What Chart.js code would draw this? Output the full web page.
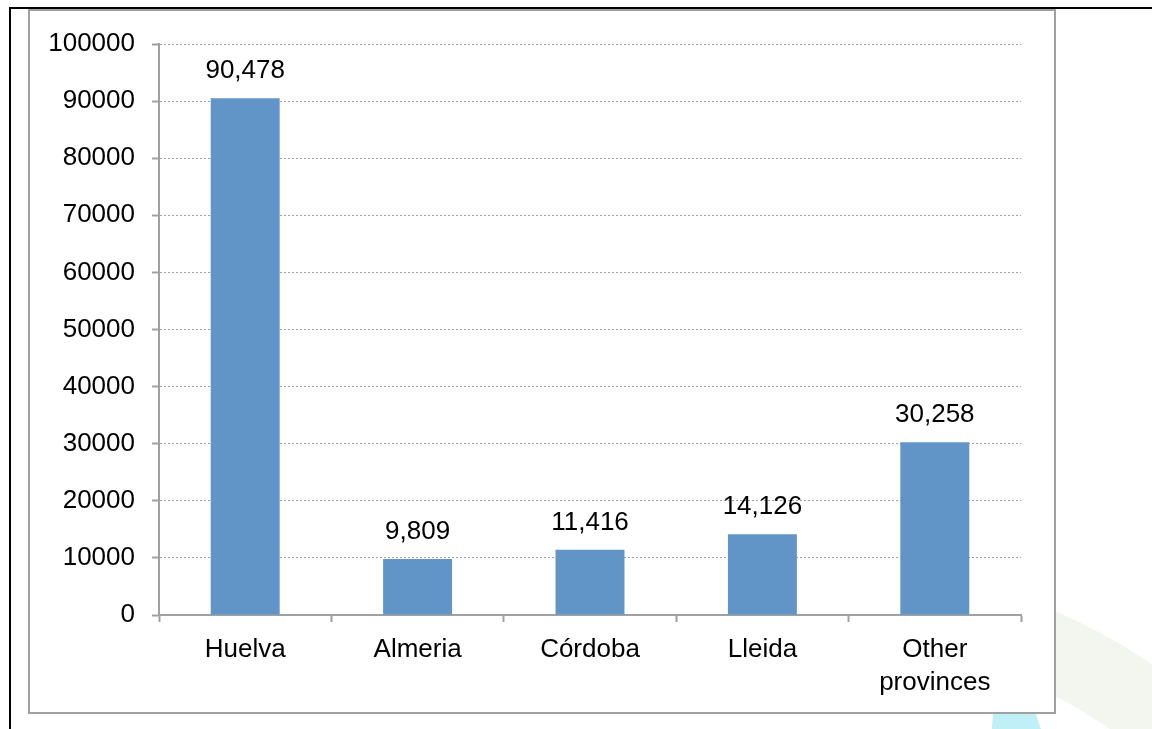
<!DOCTYPE html>
<html>
<head>
<meta charset="utf-8">
<script src="https://cdn.jsdelivr.net/npm/chart.js@4.4.0/dist/chart.umd.min.js"></script>
<style>
  html, body { margin: 0; padding: 0; background: #fff; }
  #wrap { position: relative; width: 1152px; height: 729px; }
</style>
</head>
<body>
<div id="wrap"><canvas id="chart" width="1152" height="729"></canvas></div>
<script>
'use strict';

const categories = ['Huelva', 'Almeria', 'Córdoba', 'Lleida', ['Other', 'provinces']];
const workers = [90478, 9809, 11416, 14126, 30258];
const yTicks = [0, 10000, 20000, 30000, 40000, 50000, 60000, 70000, 80000, 90000, 100000];

const FONT = "'Liberation Sans', Arial, sans-serif";
const GRAY = '#a0a0a0';

// background: watermark, outer frame lines, white chart box
const framePlugin = {
  id: 'frame',
  beforeDraw(chart) {
    const ctx = chart.ctx;
    ctx.save();
    ctx.fillStyle = '#fff';
    ctx.fillRect(0, 0, chart.width, chart.height);

    // faint logo watermark, bottom right
    ctx.beginPath();
    ctx.arc(850, 1100, 530, Math.PI * 1.5, Math.PI * 2);
    ctx.arc(850, 1100, 453, Math.PI * 2, Math.PI * 1.5, true);
    ctx.closePath();
    ctx.fillStyle = '#f3f6ee';
    ctx.fill();
    ctx.beginPath();
    ctx.moveTo(993, 712);
    ctx.lineTo(1035, 712);
    ctx.lineTo(1041, 729);
    ctx.lineTo(992, 729);
    ctx.closePath();
    ctx.fillStyle = '#bff0f8';
    ctx.fill();

    // black outer lines
    ctx.fillStyle = '#000';
    ctx.fillRect(10, 7, chart.width - 10, 2);
    ctx.fillRect(9, 7, 2, chart.height - 7);

    // gray chart box
    ctx.fillStyle = '#fff';
    ctx.fillRect(29, 10, 1026, 703);
    ctx.strokeStyle = GRAY;
    ctx.lineWidth = 2;
    ctx.strokeRect(29, 10, 1026, 703);
    ctx.restore();
  }
};

// value labels above bars
const valueLabels = {
  id: 'valueLabels',
  afterDatasetsDraw(chart) {
    const ctx = chart.ctx;
    const meta = chart.getDatasetMeta(0);
    ctx.save();
    ctx.font = '26px ' + FONT;
    ctx.fillStyle = '#000';
    ctx.textAlign = 'center';
    ctx.textBaseline = 'alphabetic';
    meta.data.forEach((bar, i) => {
      ctx.fillText(workers[i].toLocaleString('en-US'), bar.x, bar.y - 20);
    });
    ctx.restore();
  }
};

new Chart(document.getElementById('chart').getContext('2d'), {
  type: 'bar',
  data: {
    labels: categories,
    datasets: [{
      data: workers,
      backgroundColor: '#6195c8',
      borderWidth: 0,
      barPercentage: 0.4,
      categoryPercentage: 1
    }]
  },
  options: {
    responsive: false,
    animation: false,
    layout: { padding: { left: 0, right: 131, top: 44, bottom: 0 } },
    plugins: {
      legend: { display: false },
      tooltip: { enabled: false }
    },
    scales: {
      x: {
        afterFit(scale) { scale.height = 114; },
        grid: {
          drawOnChartArea: false,
          drawTicks: true,
          tickLength: 7,
          tickColor: GRAY,
          tickWidth: 2
        },
        border: { display: true, color: GRAY, width: 2 },
        ticks: {
          color: '#000',
          padding: 11,
          font: { family: FONT, size: 26, lineHeight: 1.27 },
          maxRotation: 0
        }
      },
      y: {
        min: 0,
        max: 100000,
        afterFit(scale) { scale.width = 159; },
        afterBuildTicks(scale) { scale.ticks = yTicks.map(v => ({ value: v })); },
        grid: {
          color: GRAY,
          lineWidth: 1,
          drawTicks: true,
          tickLength: 7,
          tickColor: GRAY,
          tickWidth: 2,
          tickBorderDash: []
        },
        border: { display: true, color: GRAY, width: 2, dash: [2, 2] },
        ticks: {
          color: '#000',
          padding: 17,
          font: { family: FONT, size: 26 },
          callback: v => String(v)
        }
      }
    }
  },
  plugins: [framePlugin, valueLabels]
});
</script>
</body>
</html>
